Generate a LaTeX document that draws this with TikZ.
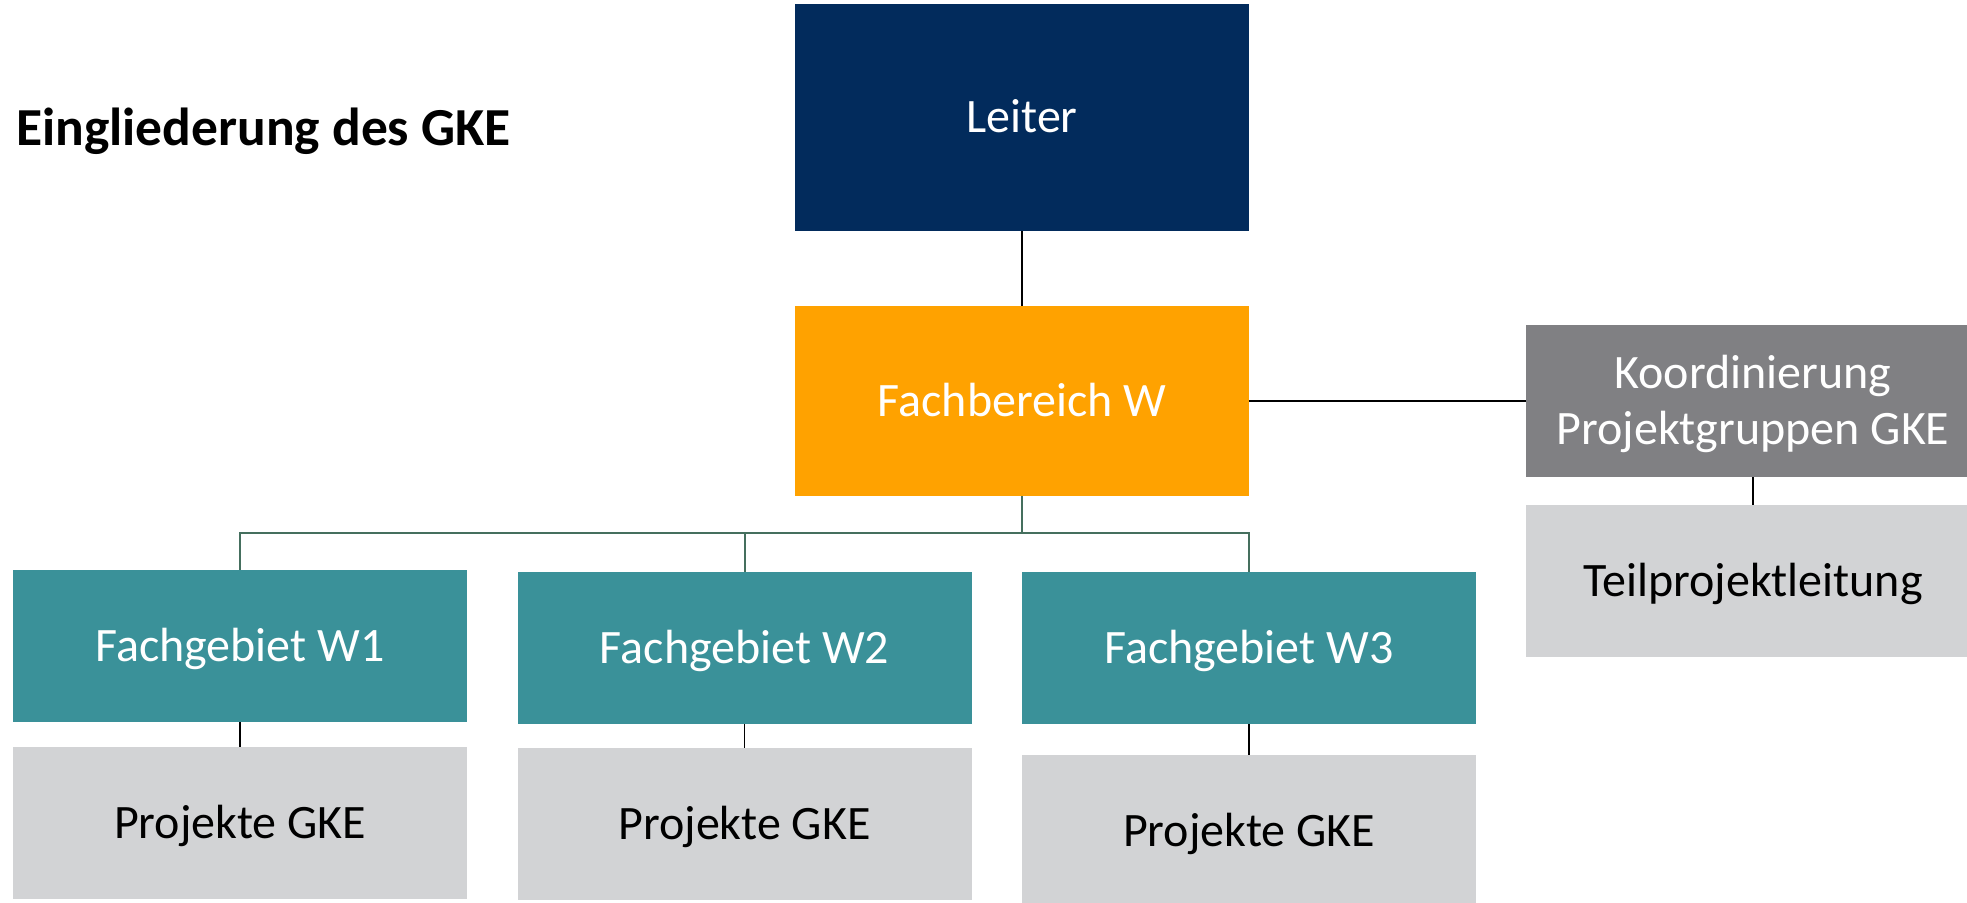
\documentclass[tikz,border=0pt]{standalone}
\usepackage{fontspec}
\setmainfont{Carlito}
\definecolor{navy}{HTML}{022B5C}
\definecolor{amber}{HTML}{FFA200}
\definecolor{teal2}{HTML}{3A9199}
\definecolor{darkgrey}{HTML}{808083}
\definecolor{lightgrey}{HTML}{D2D3D5}
\definecolor{busline}{HTML}{456F5E}
\tikzset{
  unitbox/.style={rectangle, inner sep=0pt, minimum width=454pt, minimum height=152pt,
    font=\fontsize{48}{56}\selectfont, align=center,
    text height=30.9pt, text depth=0pt},
  headbox/.style={unitbox, fill=#1, text=white},
  subbox/.style={unitbox, fill=lightgrey, text=black},
  link/.style={line width=1.5pt, black},
  buslink/.style={line width=2pt, busline},
}
\begin{document}
\begin{tikzpicture}[x=1pt, y=-1pt]
\useasboundingbox (0,0) rectangle (1967,902);
\clip (0,0) rectangle (1967,902);

% heading
\node[anchor=base west, inner sep=0pt, font=\fontsize{53.5}{64}\selectfont\bfseries] (title) at (16,145) {Eingliederung des GKE};

% top of the hierarchy
\node[headbox=navy, minimum height=227pt] (leiter) at (1022,117.5) {Leiter};
\node[headbox=amber, minimum height=190pt] (fach) at (1022,401) {Fachbereich W};

% coordination branch (two lines: height spans cap top to last baseline)
\node[headbox=darkgrey, text height=86.9pt] (koord) at (1753,401) {Koordinierung\\Projektgruppen GKE};
\node[subbox] (teil) at (1753,581) {Teilprojektleitung};

% subject areas
\node[headbox=teal2] (w1) at (240,646) {Fachgebiet W1};
\node[headbox=teal2] (w2) at (744.5,648) {Fachgebiet W2};
\node[headbox=teal2] (w3) at (1249,648) {Fachgebiet W3};

% projects
\node[subbox] (p1) at (240,823) {Projekte GKE};
\node[subbox] (p2) at (744.5,824) {Projekte GKE};
\node[subbox] (p3) at (1249,831) {Projekte GKE};

% connectors
\draw[link] (leiter.south) -- (fach.north);
\draw[link] (fach.east) -- (koord.west);
\draw[link] (koord.south) -- (teil.north);

\coordinate (bus) at (1022,533);
\draw[buslink] (fach.south) -- (bus);
\draw[buslink] (w1.north) |- (bus);
\draw[buslink] (w3.north) |- (bus);
\draw[buslink] (w2.north) -- (w2.north |- bus);

\draw[link] (w1.south) -- (p1.north);
\draw[link] (w2.south) -- (p2.north);
\draw[link] (w3.south) -- (p3.north);
\end{tikzpicture}
\end{document}
